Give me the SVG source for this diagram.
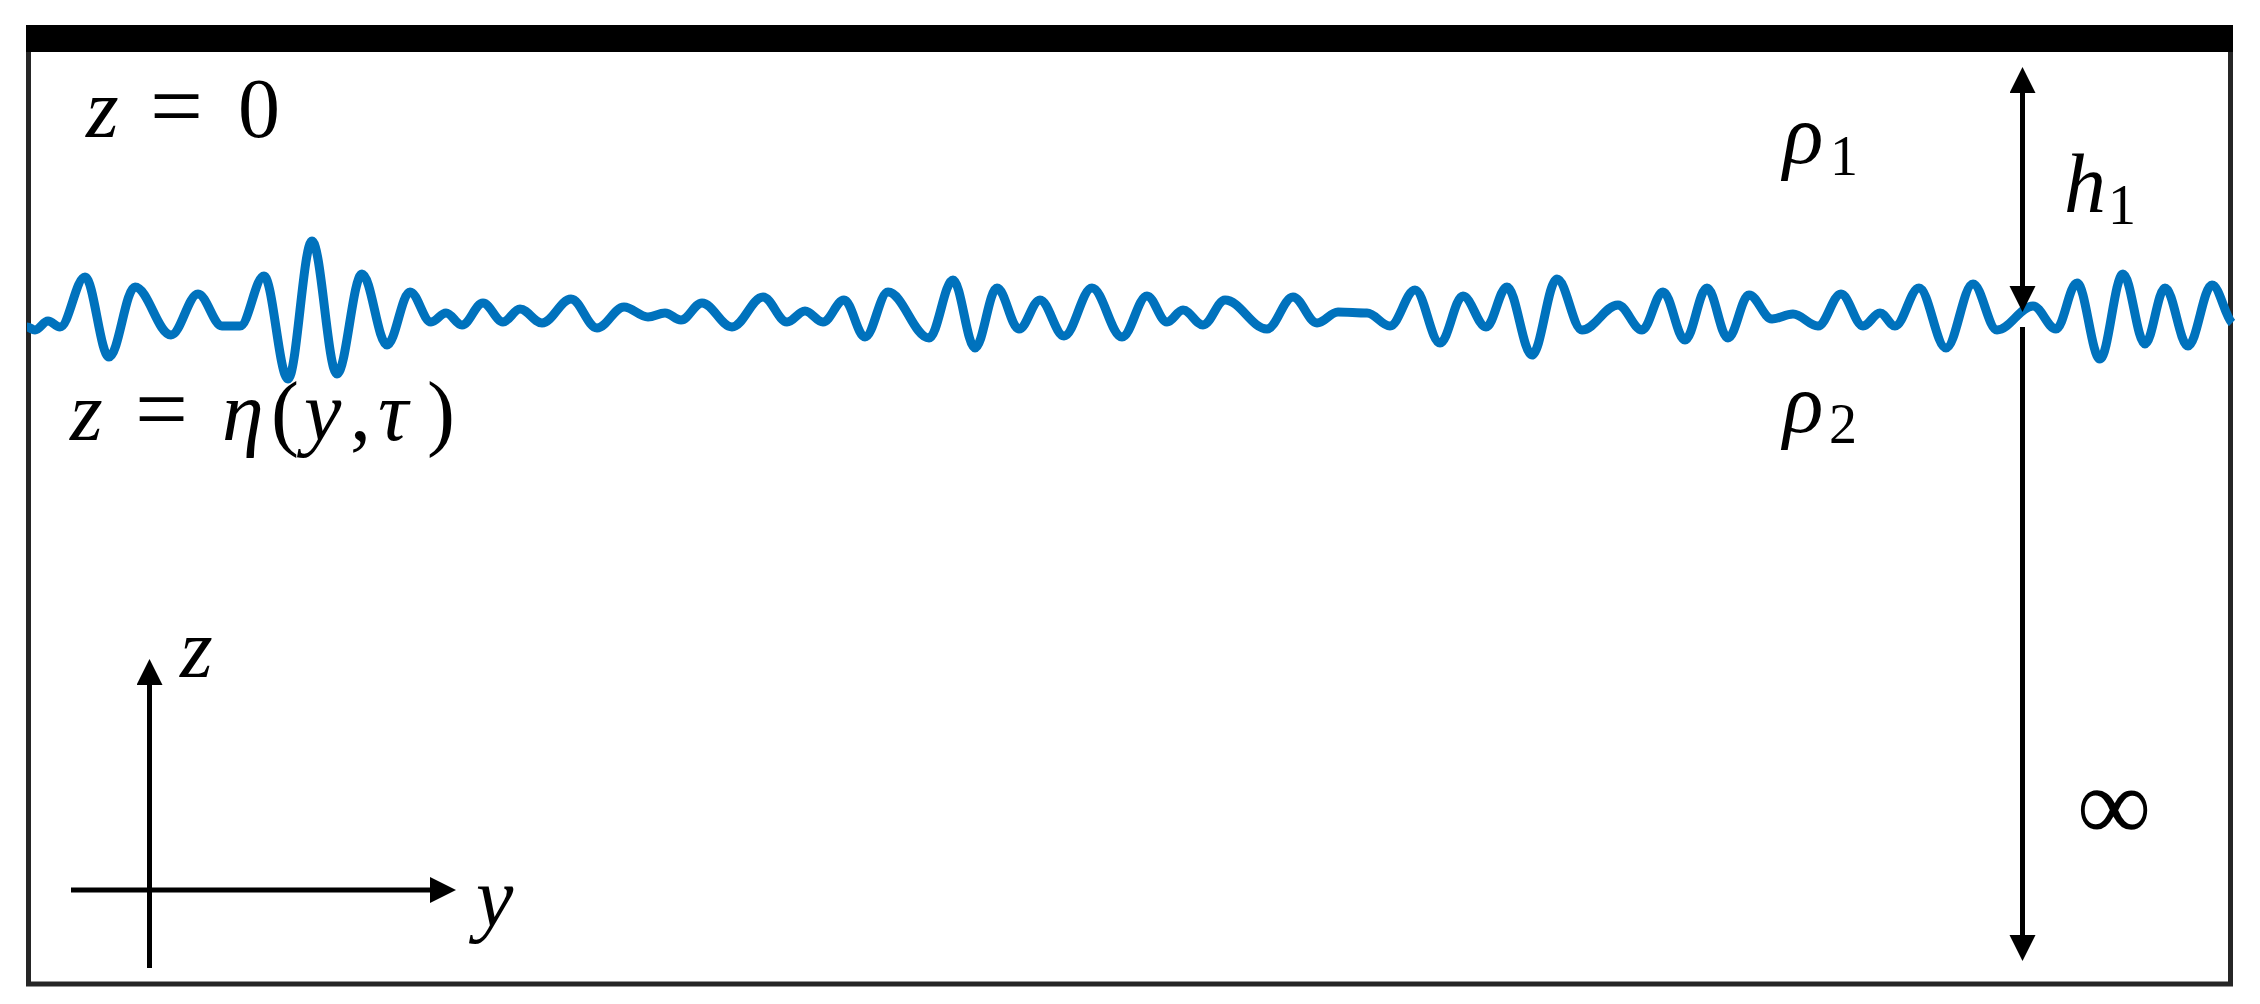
<svg xmlns="http://www.w3.org/2000/svg" width="2260" height="1004" viewBox="0 0 2260 1004">
<style>
text{font-family:'Liberation Serif','DejaVu Serif',serif;font-size:84px;fill:#000}
.it{font-style:italic}
.sub{font-size:56px;font-style:normal}
.eq{font-size:94px;font-style:normal}
.ax{stroke:#000;stroke-width:5;fill:none}
</style>
<defs>
<marker id="head" markerUnits="userSpaceOnUse" markerWidth="27" markerHeight="27" refX="0" refY="13" orient="auto-start-reverse" viewBox="0 0 27 27">
<path d="M0,0 L26,13 L0,26 Z" fill="#000"/>
</marker>
</defs>
<rect width="2260" height="1004" fill="#fff"/>
<g id="frame">
<rect x="28.5" y="28" width="2202" height="956" fill="none" stroke="#262626" stroke-width="5"/>
<rect x="26" y="25" width="2207" height="27" fill="#000"/>
</g>
<g id="interface">
<path fill="none" stroke="#0072BD" stroke-width="9" stroke-linejoin="round" d="M27,327 C29.9,327 32.1,330 35,330 C39.7,330 43.3,321 48,321 C52.3,321 55.7,327 60,327 C69,327 76,277 85,277 C93.6,277 100.4,357 109,357 C118.4,357 125.6,287 135,287 C148,287 158,335 171,335 C180.7,335 188.3,294 198,294 C206.6,294 213.4,326 222,326 C228,326 234,326 240,326 C248.6,326 255.4,276 264,276 C272.6,276 279.4,379 288,379 C296.6,379 303.4,241 312,241 C321,241 328,374 337,374 C346,374 353,274 362,274 C371,274 378,345 387,345 C395.3,345 401.7,292 410,292 C417.6,292 423.4,322 431,322 C436.4,322 440.6,313 446,313 C451.8,313 456.2,325 462,325 C469.6,325 475.4,303 483,303 C490.2,303 495.8,322 503,322 C509.1,322 513.9,309 520,309 C527.9,309 534.1,323 542,323 C552.4,323 560.6,299 571,299 C580.4,299 587.6,328 597,328 C606.7,328 614.3,307 624,307 C632.6,307 639.4,317 648,317 C654.1,317 658.9,313 665,313 C670.8,313 675.2,320 681,320 C688.6,320 694.4,303 702,303 C712.8,303 721.2,327 732,327 C743.2,327 751.8,297 763,297 C771.6,297 778.4,322 787,322 C793.5,322 798.5,311 805,311 C811.5,311 816.5,322 823,322 C830.6,322 836.4,300 844,300 C851.6,300 857.4,337 865,337 C873.3,337 879.7,292 888,292 C902.8,292 914.2,338 929,338 C937.6,338 944.4,280 953,280 C960.9,280 967.1,348 975,348 C982.9,348 989.1,288 997,288 C1004.9,288 1011.1,329 1019,329 C1026.6,329 1032.4,300 1040,300 C1048.6,300 1055.4,336 1064,336 C1074.1,336 1081.9,288 1092,288 C1102.8,288 1111.2,337 1122,337 C1131,337 1138,296 1147,296 C1154.2,296 1159.8,322 1167,322 C1172.8,322 1177.2,310 1183,310 C1190.2,310 1195.8,325 1203,325 C1210.9,325 1217.1,300 1225,300 C1240.1,300 1251.9,329 1267,329 C1276.4,329 1283.6,297 1293,297 C1301.6,297 1308.4,323 1317,323 C1324.6,323 1330.4,312 1338,312 C1348.4,312 1356.6,313 1367,313 C1375.3,313 1381.7,326 1390,326 C1399,326 1406,290 1415,290 C1424,290 1431,343 1440,343 C1448.3,343 1454.7,296 1463,296 C1471.3,296 1477.7,327 1486,327 C1493.6,327 1499.4,287 1507,287 C1516,287 1523,355 1532,355 C1541,355 1548,279 1557,279 C1566,279 1573,330 1582,330 C1595,330 1605,305 1618,305 C1626.6,305 1633.4,330 1642,330 C1649.6,330 1655.4,292 1663,292 C1670.9,292 1677.1,340 1685,340 C1692.9,340 1699.1,288 1707,288 C1714.6,288 1720.4,338 1728,338 C1735.6,338 1741.4,295 1749,295 C1757.3,295 1763.7,319 1772,319 C1779.6,319 1785.4,314 1793,314 C1802,314 1809,326 1818,326 C1826.3,326 1832.7,294 1841,294 C1848.9,294 1855.1,326 1863,326 C1869.1,326 1873.9,313 1880,313 C1885.4,313 1889.6,326 1895,326 C1903.6,326 1910.4,288 1919,288 C1928.7,288 1936.3,348 1946,348 C1955.7,348 1963.3,284 1973,284 C1981.6,284 1988.4,330 1997,330 C2010,330 2020,306 2033,306 C2041.3,306 2047.7,329 2056,329 C2063.6,329 2069.4,283 2077,283 C2085.3,283 2091.7,359 2100,359 C2108.3,359 2114.7,274 2123,274 C2130.9,274 2137.1,344 2145,344 C2152.2,344 2157.8,288 2165,288 C2173.3,288 2179.7,346 2188,346 C2196.6,346 2203.4,285 2212,285 C2219.2,285 2224.8,316 2232,323"/>
</g>
<g id="connectors">
<line id="h1-arrow" class="ax" x1="2022.5" y1="93" x2="2022.5" y2="286" marker-start="url(#head)" marker-end="url(#head)"/>
<line id="inf-arrow" class="ax" x1="2022.5" y1="327" x2="2022.5" y2="935" marker-end="url(#head)"/>
<line id="z-axis" class="ax" x1="149.5" y1="968" x2="149.5" y2="685" marker-end="url(#head)"/>
<line id="y-axis" class="ax" x1="71" y1="890" x2="430" y2="890" marker-end="url(#head)"/>
</g>
<g id="label-z0"><text y="137"><tspan class="it" x="86">z</tspan><tspan class="eq" x="150">=</tspan><tspan x="238">0</tspan></text></g>
<g id="label-eta"><text y="440"><tspan class="it" x="70">z</tspan><tspan class="eq" x="135">=</tspan><tspan class="it" x="222">η</tspan><tspan x="271">(</tspan><tspan class="it" x="304">y</tspan><tspan x="350">,</tspan><tspan class="it" x="378">τ</tspan><tspan x="427">)</tspan></text></g>
<g id="label-rho1"><text y="163"><tspan class="it" x="1783">ρ</tspan><tspan class="sub" x="1830" y="175">1</tspan></text></g>
<g id="label-rho2"><text y="432"><tspan class="it" x="1783">ρ</tspan><tspan class="sub" x="1829" y="443">2</tspan></text></g>
<g id="label-h1"><text y="212"><tspan class="it" x="2064">h</tspan><tspan class="sub" x="2108" y="224">1</tspan></text></g>
<g id="label-inf"><text x="2077" y="840" style="font-size:104px">∞</text></g>
<g id="label-zaxis"><text class="it" x="180" y="677">z</text></g>
<g id="label-yaxis"><text class="it" x="476" y="926">y</text></g>
</svg>
